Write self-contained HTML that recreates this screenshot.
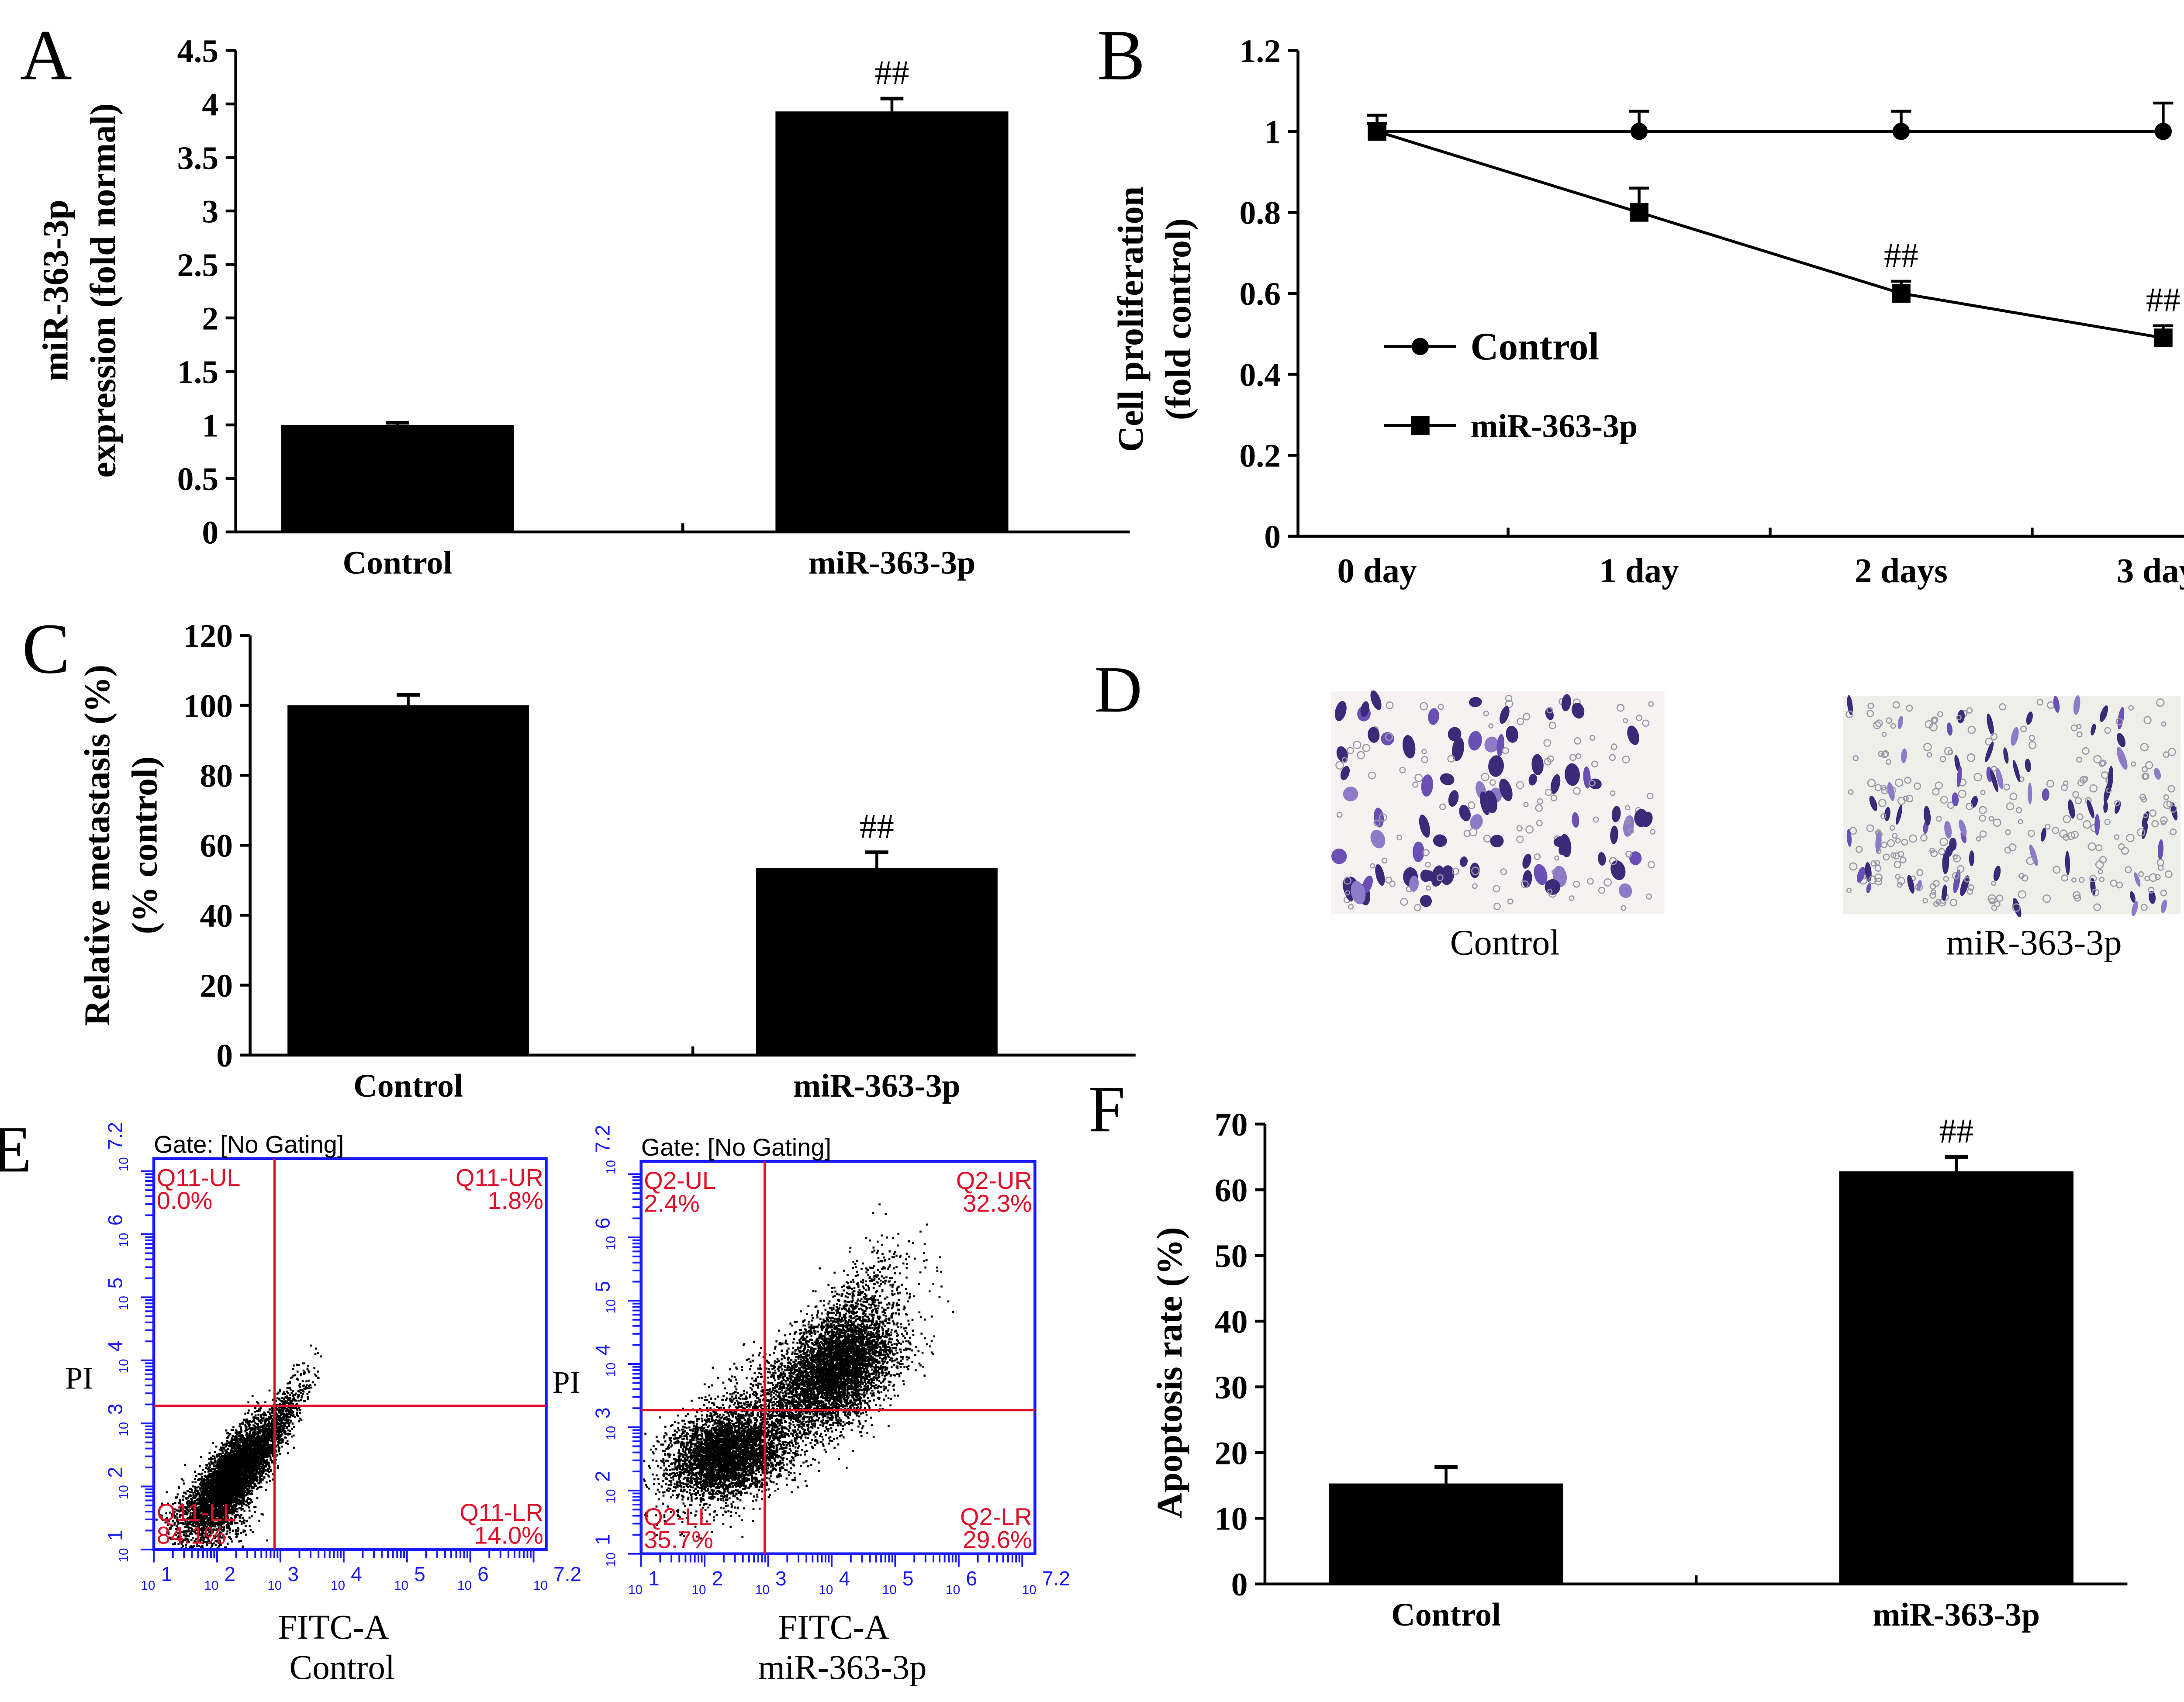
<!DOCTYPE html>
<html><head><meta charset="utf-8"><style>html,body{margin:0;padding:0;background:#fff}svg{display:block}</style></head>
<body>
<svg id="fig" xmlns="http://www.w3.org/2000/svg" width="5160" height="3897" viewBox="0 0 1568 1184" font-family="Liberation Serif, serif">
<rect width="1568" height="1184" fill="#fff"/>
<g id="root"></g>
</svg>
<script>
// ---------- data ----------
const aCats = ["Control", "miR-363-3p"];
const aValues = [1.0, 3.93];
const aErrors = [0.02, 0.12];
const aTicks = [0, 0.5, 1, 1.5, 2, 2.5, 3, 3.5, 4, 4.5];
const aTickLabels = ["0","0.5","1","1.5","2","2.5","3","3.5","4","4.5"];

const bCats = ["0 day", "1 day", "2 days", "3 days"];
const bControl = [1.0, 1.0, 1.0, 1.0];
const bControlErr = [0.04, 0.05, 0.05, 0.07];
const bMir = [1.0, 0.80, 0.60, 0.49];
const bMirErr = [0.02, 0.06, 0.03, 0.03];
const bTicks = [0, 0.2, 0.4, 0.6, 0.8, 1, 1.2];
const bTickLabels = ["0","0.2","0.4","0.6","0.8","1","1.2"];

const cCats = ["Control", "miR-363-3p"];
const cValues = [100, 53.5];
const cErrors = [3, 4.5];
const cTicks = [0, 20, 40, 60, 80, 100, 120];

const fCats = ["Control", "miR-363-3p"];
const fValues = [15.3, 62.8];
const fErrors = [2.5, 2.2];
const fTicks = [0, 10, 20, 30, 40, 50, 60, 70];

const eLeftPct = ["0.0%", "1.8%", "84.1%", "14.0%"];
const eRightPct = ["2.4%", "32.3%", "35.7%", "29.6%"];

// ---------- helpers ----------
const NS = "http://www.w3.org/2000/svg";
const root = document.getElementById('root');
function el(tag, attrs, parent, text) {
  const e = document.createElementNS(NS, tag);
  for (const k in attrs) e.setAttribute(k, attrs[k]);
  if (text !== undefined) e.textContent = text;
  (parent || root).appendChild(e);
  return e;
}
function grp(name, parent) {
  const g = el('g', {}, parent);
  
  
  return g;
}
function txt(parent, name, x, y, s, size, opts) {
  opts = opts || {};
  const t = el('text', {x: x, y: y, 'font-size': size, 'text-anchor': opts.anchor || 'middle',
    'font-weight': opts.bold ? 'bold' : 'normal', fill: opts.fill || '#000',
    'font-family': opts.family || 'Liberation Serif, serif'}, parent, s);
  if (opts.rotate !== undefined) t.setAttribute('transform', `rotate(${opts.rotate} ${x} ${y})`);
  
  
  return t;
}
function line(parent, x1, y1, x2, y2, sw, col) {
  return el('line', {x1, y1, x2, y2, stroke: col || '#000', 'stroke-width': sw || 2}, parent);
}

// Bar chart
function barChart(name, cfg) {
  const g = grp(name);
  const y = v => cfg.y0 - (v - cfg.min) / (cfg.max - cfg.min) * (cfg.y0 - cfg.y1);
  const ax = grp('y-axis', g);
  line(ax, cfg.x0, cfg.y1, cfg.x0, cfg.y0, 2);
  cfg.ticks.forEach((t, i) => {
    line(ax, cfg.x0 - 7, y(t), cfg.x0, y(t), 2);
    txt(ax, 'y-tick-label', cfg.x0 - 12, y(t) + 8, cfg.tickLabels ? cfg.tickLabels[i] : String(t), 23, {anchor: 'end', bold: true});
  });
  const xa = grp('x-axis', g);
  line(xa, cfg.x0, cfg.y0, cfg.xEnd, cfg.y0, 2);
  const n = cfg.cats.length;
  const band = (cfg.xEnd - cfg.x0) / n;
  for (let i = 1; i < n; i++) line(xa, cfg.x0 + band * i, cfg.y0, cfg.x0 + band * i, cfg.y0 - 6, 2);
  cfg.cats.forEach((c, i) => {
    const cx = cfg.x0 + band * (i + 0.5) + (cfg.shift ? cfg.shift[i] : 0);
    const bw = cfg.bw;
    const r = el('rect', {x: cx - bw / 2, y: y(cfg.values[i]), width: bw, height: cfg.y0 - y(cfg.values[i]), fill: '#000'}, g);
    
    
    const eg = grp('error-bar', g);
    const top = y(cfg.values[i] + cfg.errors[i]);
    line(eg, cx, y(cfg.values[i]), cx, top, 2);
    line(eg, cx - 8, top, cx + 8, top, 2.5);
    txt(xa, 'x-tick-label', cx, cfg.y0 + 29, c, 23, {bold: true});
    if (cfg.sig && cfg.sig[i]) txt(g, 'significance-mark', cx, top - 10, '##', 24);
  });
  const yl = grp('y-axis-title', g);
  cfg.ylab.forEach((s, k) => txt(yl, 'y-axis-title-line', cfg.ylabX[k], cfg.ylabY, s, 25, {bold: true, rotate: -90}));
}

// ---------- Panel A ----------
txt(root, 'panel-label-a', 32, 55, 'A', 50);
barChart('panel-a-chart', {x0: 164, xEnd: 786, y0: 370, y1: 35, min: 0, max: 4.5, bw: 162,
  ticks: aTicks, tickLabels: aTickLabels, cats: aCats, values: aValues, errors: aErrors,
  shift: [-43, -10], sig: [false, true], ylab: ['miR-363-3p', 'expression (fold normal)'], ylabX: [47, 80], ylabY: 202});

// ---------- Panel B ----------
(function () {
  const g = grp('panel-b-chart');
  txt(root, 'panel-label-b', 780, 55, 'B', 50);
  const x0 = 903, xEnd = 1555, y0 = 373, y1 = 35;
  const y = v => y0 - v / 1.2 * (y0 - y1);
  const xs = i => 958 + i * 182.3;
  const ax = grp('y-axis', g);
  line(ax, x0, y1, x0, y0, 2);
  bTicks.forEach((t, i) => {
    line(ax, x0 - 7, y(t), x0, y(t), 2);
    txt(ax, 'y-tick-label', x0 - 12, y(t) + 8, bTickLabels[i], 23, {anchor: 'end', bold: true});
  });
  const xa = grp('x-axis', g);
  line(xa, x0, y0, xEnd, y0, 2);
  for (let i = 0; i < bCats.length - 1; i++) line(xa, (xs(i) + xs(i + 1)) / 2, y0, (xs(i) + xs(i + 1)) / 2, y0 - 6, 2);
  bCats.forEach((c, i) => txt(xa, 'x-tick-label', xs(i), y0 + 32, c, 24, {bold: true}));
  function series(name, vals, errs, marker, sig) {
    const sg = grp(name, g);
    const p = el('polyline', {points: vals.map((v, i) => xs(i) + ',' + y(v)).join(' '), fill: 'none', stroke: '#000', 'stroke-width': 2}, sg);
    
    
    vals.forEach((v, i) => {
      const top = y(v + errs[i]);
      line(sg, xs(i), y(v), xs(i), top, 2);
      line(sg, xs(i) - 7, top, xs(i) + 7, top, 2);
      let m;
      if (marker === 'circle') m = el('circle', {cx: xs(i), cy: y(v), r: 6, fill: '#000'}, sg);
      else m = el('rect', {x: xs(i) - 6.5, y: y(v) - 6.5, width: 13, height: 13, fill: '#000'}, sg);
      
      
      if (sig && sig[i]) txt(sg, 'significance-mark', xs(i), top - 10, '##', 24);
    });
  }
  series('control-series', bControl, bControlErr, 'circle');
  series('mir-series', bMir, bMirErr, 'square', [false, false, true, true]);
  const lg = grp('legend', g);
  const l1 = grp('legend-entry-control', lg);
  line(l1, 963, 241, 1013, 241, 2); el('circle', {cx: 988, cy: 241, r: 6}, l1);
  txt(l1, 'legend-label', 1023, 250, 'Control', 27, {anchor: 'start', bold: true});
  const l2 = grp('legend-entry-mir', lg);
  line(l2, 963, 296, 1013, 296, 2); el('rect', {x: 981.5, y: 289.5, width: 13, height: 13}, l2);
  txt(l2, 'legend-label', 1023, 304, 'miR-363-3p', 23, {anchor: 'start', bold: true});
  const yl = grp('y-axis-title', g);
  txt(yl, 'y-axis-title-line', 795, 222, 'Cell proliferation', 25, {bold: true, rotate: -90});
  txt(yl, 'y-axis-title-line', 828, 222, '(fold control)', 25, {bold: true, rotate: -90});
})();

// ---------- Panel C ----------
txt(root, 'panel-label-c', 32, 468, 'C', 50);
barChart('panel-c-chart', {x0: 174, xEnd: 790, y0: 734, y1: 442, min: 0, max: 120, bw: 168,
  ticks: cTicks, cats: cCats, values: cValues, errors: cErrors,
  shift: [-44, -26], sig: [false, true], ylab: ['Relative metastasis (%)', '(% control)'], ylabX: [76, 109], ylabY: 588});

// ---------- Panel F ----------
txt(root, 'panel-label-f', 770, 787, 'F', 46);
barChart('panel-f-chart', {x0: 880, xEnd: 1480, y0: 1102, y1: 782, min: 0, max: 70, bw: 163,
  ticks: fTicks, cats: fCats, values: fValues, errors: fErrors,
  shift: [-24, 31], sig: [false, true], ylab: ['Apoptosis rate (%)'], ylabX: [822], ylabY: 955});

// ---------- seeded PRNG for photo/cytometry texture ----------
let seed = 12345;
function rnd() { seed = (seed * 1103515245 + 12345) % 2147483648; return seed / 2147483648; }
function gauss() { return (rnd() + rnd() + rnd() + rnd() - 2) * 0.87; }

// ---------- Panel D ----------
(function () {
  txt(root, 'panel-label-d', 778, 495, 'D', 46);
  const g = grp('panel-d-images');
  function photo(name, x, y, w, h, n, dark, cap, capX) {
    const pg = grp(name, g);
    el('rect', {x, y, width: w, height: h, fill: dark ? '#f6f2f2' : '#efefea'}, pg);
    for (let i = 0; i < n; i++) {
      const cx = x + 4 + rnd() * (w - 8), cy = y + 4 + rnd() * (h - 8);
      const big = rnd() < (dark ? 0.4 : 0.2);
      const col = rnd() < 0.6 ? '#3a2a78' : (rnd() < 0.5 ? '#6a4fb4' : '#8e7bc8');
      if (big) el('ellipse', {cx, cy, rx: dark ? 2.5 + rnd() * 3 : 1.5 + rnd() * 1.2, ry: 3.5 + rnd() * 5, fill: col, transform: `rotate(${rnd() * 40 - 20} ${cx} ${cy})`}, pg);
      else el('circle', {cx, cy, r: 1.4 + rnd() * 1.2, fill: 'none', stroke: '#9a9aa8', 'stroke-width': 0.8}, pg);
    }
    txt(pg, 'image-caption', capX, 664, cap, 25);
  }
  photo('image-control', 926, 481, 232, 155, 200, true, 'Control', 1047);
  photo('image-mir', 1282, 484, 235, 152, 320, false, 'miR-363-3p', 1415);
})();

// ---------- Panel E ----------
(function () {
  txt(root, 'panel-label-e', 8, 815, 'E', 46);
  const g = grp('panel-e-flow');
  function plot(name, fx, fy, fw, fh, qx, qy, prefix, pct, blobs, capTop, capBot) {
    const pg = grp(name, g);
    const blue = '#1a1aff', red = '#e0102a';
    const dg = grp('scatter-points', pg);
    let d = '';
    blobs.forEach(b => {
      for (let i = 0; i < b.n; i++) {
        const u = gauss() * b.su, v = gauss() * b.sv;
        const c = Math.cos(b.ang), s = Math.sin(b.ang);
        const px = b.x + u * c - v * s, py = b.y + u * s + v * c;
        if (px > fx + 1 && px < fx + fw - 1 && py > fy + 1 && py < fy + fh - 1)
          d += `M${px.toFixed(1)} ${py.toFixed(1)}h1.4v1.4h-1.4z`;
      }
    });
    el('path', {d, fill: '#000'}, dg);
    const fr = el('rect', {x: fx, y: fy, width: fw, height: fh, fill: 'none', stroke: blue, 'stroke-width': 2}, pg);
     
    line(pg, qx, fy, qx, fy + fh, 1.6, red);
    line(pg, fx, qy, fx + fw, qy, 1.6, red);
    const dec = fw / 6.2, decy = fh / 6.2;
    const tg = grp('axis-ticks', pg);
    for (let k = 0; k < 6.2; k++) {
      for (let m = 1; m <= 9; m++) {
        const f = Math.log10(m);
        if (k + f > 6.2) continue;
        const len = m === 1 ? 9 : 6;
        line(tg, fx + (k + f) * dec, fy + fh, fx + (k + f) * dec, fy + fh + len, 1.2, blue);
        line(tg, fx, fy + fh - (k + f) * decy, fx - len, fy + fh - (k + f) * decy, 1.2, blue);
      }
    }
    const exps = ['1', '2', '3', '4', '5', '6', '7.2'];
    exps.forEach((e, k) => {
      const pos = k === 6 ? 6.2 : k;
      const xl = grp('x-tick-label', pg);
      txt(xl, 'tick-base', fx + pos * dec - 4, fy + fh + 28, '10', 9, {fill: blue, family: 'Liberation Sans, sans-serif'});
      txt(xl, 'tick-exp', fx + pos * dec + 5, fy + fh + 22, e, 14, {anchor: 'start', fill: blue, family: 'Liberation Sans, sans-serif'});
      const yx = fx - 18, yy = fy + fh - pos * decy;
      const yg = grp('y-tick-label', pg);
      txt(yg, 'tick-base', yx, yy + 4, '10', 9, {fill: blue, rotate: -90, family: 'Liberation Sans, sans-serif'});
      txt(yg, 'tick-exp', yx - 4, yy - 6, e, 14, {anchor: 'start', fill: blue, rotate: -90, family: 'Liberation Sans, sans-serif'});
    });
    const ql = grp('quadrant-labels', pg);
    const sf = {fill: red, family: 'Liberation Sans, sans-serif'};
    txt(ql, 'quadrant-ul', fx + 2, fy + 19, prefix + '-UL', 17, Object.assign({anchor: 'start'}, sf));
    txt(ql, 'quadrant-ul-pct', fx + 2, fy + 35, pct[0], 17, Object.assign({anchor: 'start'}, sf));
    txt(ql, 'quadrant-ur', fx + fw - 2, fy + 19, prefix + '-UR', 17, Object.assign({anchor: 'end'}, sf));
    txt(ql, 'quadrant-ur-pct', fx + fw - 2, fy + 35, pct[1], 17, Object.assign({anchor: 'end'}, sf));
    txt(ql, 'quadrant-ll', fx + 2, fy + fh - 20, prefix + '-LL', 17, Object.assign({anchor: 'start'}, sf));
    txt(ql, 'quadrant-ll-pct', fx + 2, fy + fh - 4, pct[2], 17, Object.assign({anchor: 'start'}, sf));
    txt(ql, 'quadrant-lr', fx + fw - 2, fy + fh - 20, prefix + '-LR', 17, Object.assign({anchor: 'end'}, sf));
    txt(ql, 'quadrant-lr-pct', fx + fw - 2, fy + fh - 4, pct[3], 17, Object.assign({anchor: 'end'}, sf));
    txt(pg, 'gate-label', fx + 0, fy - 4, 'Gate: [No Gating]', 17, {anchor: 'start', family: 'Liberation Sans, sans-serif'});
    txt(pg, 'y-axis-title', fx - 52, qy - 12, 'PI', 22, {});
    txt(pg, 'x-axis-title', capTop, 1140, 'FITC-A', 24, {});
    txt(pg, 'sample-caption', capTop + 6, 1168, capBot, 24, {});
  }
  plot('flow-control', 107, 806, 273, 272, 191, 978, 'Q11', eLeftPct, [
    {x: 162, y: 1025, su: 42, sv: 16, ang: -0.95, n: 4500},
    {x: 190, y: 995, su: 45, sv: 10, ang: -1.05, n: 900},
    {x: 145, y: 1055, su: 30, sv: 26, ang: -0.6, n: 900}
  ], 232, 'Control');
  plot('flow-mir', 446, 808, 274, 273, 532, 981, 'Q2', eRightPct, [
    {x: 505, y: 1012, su: 38, sv: 26, ang: -0.3, n: 3200},
    {x: 585, y: 950, su: 42, sv: 28, ang: -0.8, n: 3400},
    {x: 545, y: 980, su: 100, sv: 38, ang: -0.65, n: 3000},
    {x: 590, y: 915, su: 60, sv: 24, ang: -0.9, n: 600}
  ], 580, 'miR-363-3p');
})();
</script>
</body></html>
